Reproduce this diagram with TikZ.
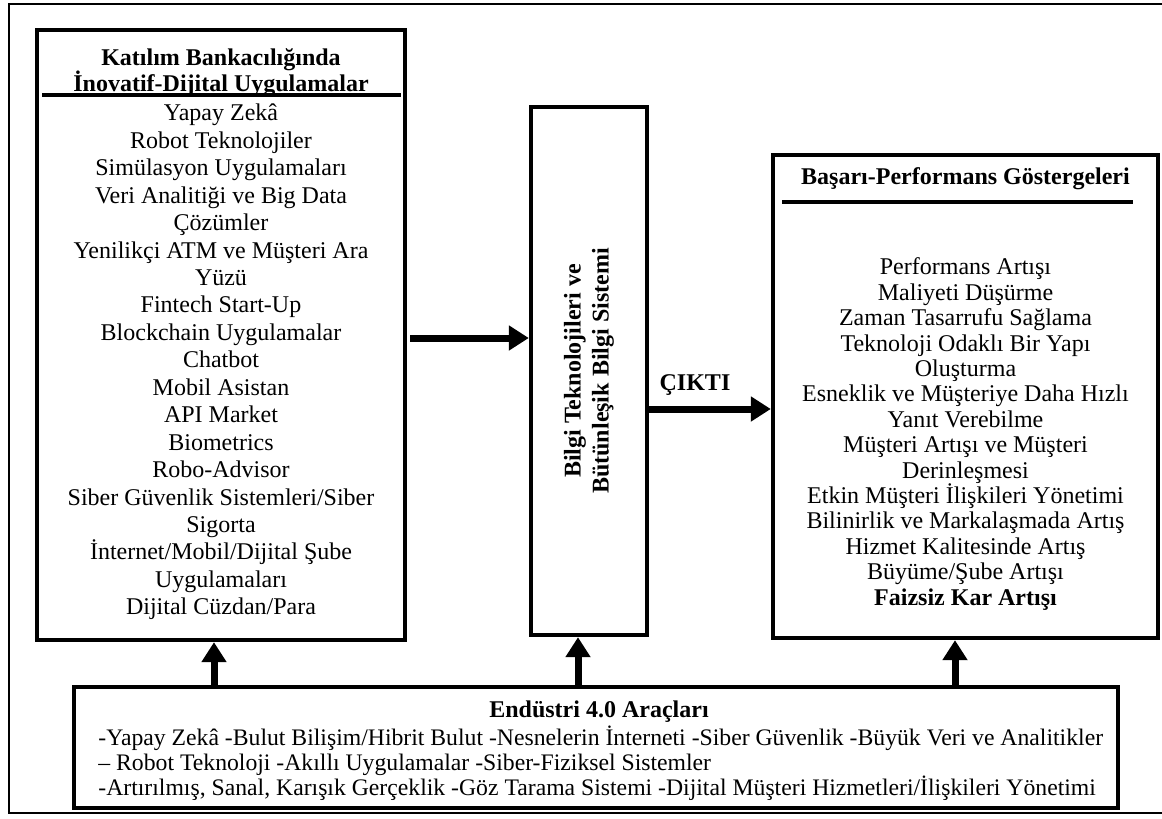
\documentclass[tikz,border=0pt]{standalone}
\usepackage{fontspec}
\setmainfont{Liberation Serif}
\usepackage{tikz}
\usetikzlibrary{arrows.meta,calc}

\begin{document}
\begin{tikzpicture}[x=0.5pt,y=-0.5pt]
\tikzset{box/.style={draw, rectangle, line width=2.2pt, inner sep=0pt},
  txt/.style={align=center, inner sep=0pt, font=\fontsize{12}{13.7}\selectfont},
  arr/.style={line width=3.5pt, -{Triangle[length=10pt,width=12pt]}}}

\useasboundingbox (0,0) rectangle (1162,819);
\draw[line width=1.3pt] (1175,4) -- (9,4) -- (9,813) -- (1175,813);

% Boxes
\node[box, minimum width=184pt, minimum height=305pt] (apps) at (221,335) {};
\node[box, minimum width=58pt, minimum height=264pt] (info) at (589,371) {};
\node[box, minimum width=192.5pt, minimum height=241.5pt] (perf) at (965.5,396.5) {};
\node[box, minimum width=522pt, minimum height=60.5pt] (tools) at (596,747.5) {};

% Innovative-digital applications
\node[txt, font=\fontsize{12}{13}\selectfont\bfseries] (appstitle) at (221,73)
{Katılım Bankacılığında\\İnovatif-Dijital Uygulamalar};
\draw[line width=2pt] (42,95) -- (401,95);
\node[txt, font=\fontsize{12}{13.72}\selectfont] (appslist) at (221,362)
{Yapay Zekâ\\Robot Teknolojiler\\Simülasyon Uygulamaları\\Veri Analitiği ve Big Data\\Çözümler\\
Yenilikçi ATM ve Müşteri Ara\\Yüzü\\Fintech Start-Up\\Blockchain Uygulamalar\\Chatbot\\
Mobil Asistan\\API Market\\Biometrics\\Robo-Advisor\\Siber Güvenlik Sistemleri/Siber\\Sigorta\\
İnternet/Mobil/Dijital Şube\\Uygulamaları\\Dijital Cüzdan/Para};

% Information system
\node[txt, rotate=90, font=\fontsize{12}{14}\selectfont\bfseries] (infotext) at (589,371)
{Bilgi Teknolojileri ve\\Bütünleşik Bilgi Sistemi};
\node[txt, font=\fontsize{12}{13}\selectfont\bfseries] (output) at (695,385) {ÇIKTI};

% Success-performance indicators
\node[txt, font=\fontsize{12}{13}\selectfont\bfseries] (perftitle) at (965.5,179)
{Başarı-Performans Göstergeleri};
\draw[line width=1.7pt] (782,202) -- (1133,202);
\node[txt, font=\fontsize{12}{12.7}\selectfont] (perflist) at (965.5,434)
{Performans Artışı\\Maliyeti Düşürme\\Zaman Tasarrufu Sağlama\\Teknoloji Odaklı Bir Yapı\\Oluşturma\\
Esneklik ve Müşteriye Daha Hızlı\\Yanıt Verebilme\\Müşteri Artışı ve Müşteri\\Derinleşmesi\\
Etkin Müşteri İlişkileri Yönetimi\\Bilinirlik ve Markalaşmada Artış\\Hizmet Kalitesinde Artış\\
Büyüme/Şube Artışı\\\textbf{Faizsiz Kar Artışı}};

% Industry 4.0 tools
\node[txt, font=\fontsize{12}{13}\selectfont\bfseries] (toolstitle) at (599,712) {Endüstri 4.0 Araçları};
\node[txt, align=left, anchor=west, font=\fontsize{11.85}{12.5}\selectfont] (toolslist) at (98,763)
{-Yapay Zekâ -Bulut Bilişim/Hibrit Bulut -Nesnelerin İnterneti -Siber Güvenlik -Büyük Veri ve Analitikler\\
– Robot Teknoloji -Akıllı Uygulamalar -Siber-Fiziksel Sistemler\\
-Artırılmış, Sanal, Karışık Gerçeklik -Göz Tarama Sistemi -Dijital Müşteri Hizmetleri/İlişkileri Yönetimi};

% Connections
\coordinate (aIn) at (410,338);
\coordinate (aOut) at (0,409);
\coordinate (aL) at (214,0);
\coordinate (aM) at (578,0);
\coordinate (aR) at (955,0);
\draw[arr] (aIn) -- (aIn -| info.west);
\draw[arr] (info.east |- aOut) -- (perf.west |- aOut);
\draw[arr] (tools.north -| aL) -- (apps.south -| aL);
\draw[arr] (tools.north -| aM) -- (info.south -| aM);
\draw[arr] (tools.north -| aR) -- (perf.south -| aR);

\end{tikzpicture}
\end{document}
